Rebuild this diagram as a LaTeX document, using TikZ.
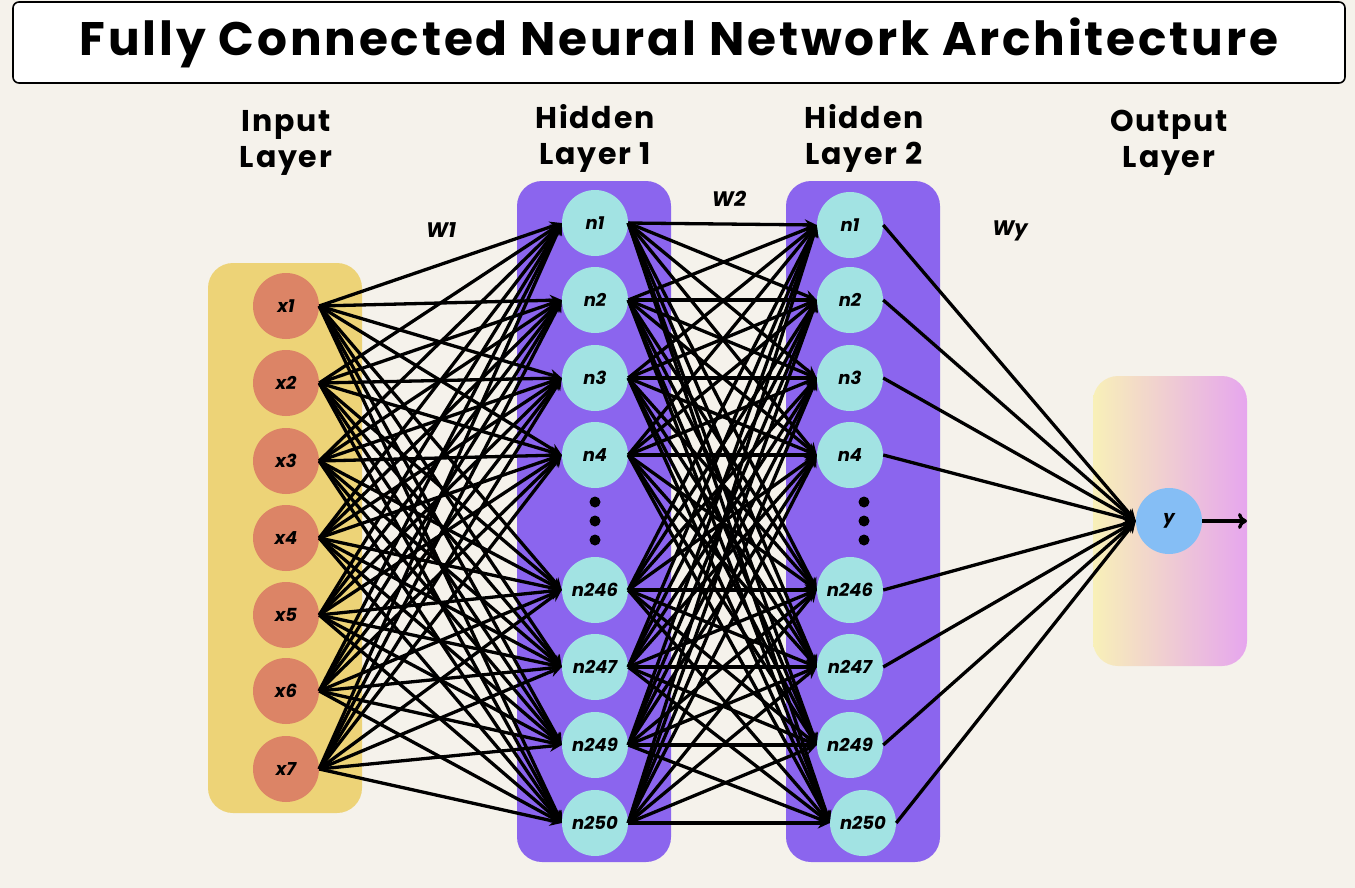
\documentclass[tikz,border=0pt]{standalone}
\usepackage{fontspec}
\setmainfont{Poppins}
\usetikzlibrary{arrows.meta,shadings}
\definecolor{bg}{RGB}{245,242,235}
\definecolor{inbox}{RGB}{237,211,119}
\definecolor{innode}{RGB}{220,132,102}
\definecolor{hidbox}{RGB}{139,101,238}
\definecolor{hidnode}{RGB}{162,227,227}
\definecolor{outnode}{RGB}{133,190,245}
\definecolor{gradL}{RGB}{248,240,184}
\definecolor{gradR}{RGB}{230,166,238}
\tikzset{
  neuron/.style={circle,minimum size=66pt,inner sep=0pt,font=\fontsize{18}{18}\selectfont\bfseries\itshape},
  inneuron/.style={neuron,fill=innode},
  hidneuron/.style={neuron,fill=hidnode},
  outneuron/.style={neuron,fill=outnode},
  layerbox/.style={rounded corners=25pt},
  layerlabel/.style={align=center,font=\fontsize{30}{36}\selectfont\bfseries},
  wlabel/.style={font=\fontsize{21}{21}\selectfont\bfseries\itshape},
  edge/.style={line width=3.3pt,-{Stealth[length=12pt,width=11pt]}},
  dotmark/.style={circle,fill=black,minimum size=11pt,inner sep=0pt}
}
\begin{document}
\begin{tikzpicture}[x=1pt,y=-1pt]
\useasboundingbox (0,0) rectangle (1355,888);
\fill[bg] (0,0) rectangle (1355,888);
% title
\node[draw=black,line width=1.6pt,fill=white,rounded corners=6pt,minimum width=1332pt,minimum height=81pt,inner sep=0pt] (titlebox) at (679,42.5) {};
\node[font=\fontsize{47}{47}\selectfont\bfseries] (title) at (679,43) {\addfontfeature{LetterSpace=6}Fully Connected Neural Network Architecture};
% layer boxes
\fill[inbox,layerbox] (208,263) rectangle (362,813);
\fill[hidbox,layerbox] (517,181) rectangle (671,862);
\fill[hidbox,layerbox] (786,181) rectangle (940,862);
\shade[layerbox,left color=gradL,right color=gradR] (1093,376) rectangle (1247,666);
% layer labels
\node[layerlabel] (linput) at (286,143) {\addfontfeature{LetterSpace=6}Input\\\addfontfeature{LetterSpace=6}Layer};
\node[layerlabel] (lhid1) at (595,138) {\addfontfeature{LetterSpace=6}Hidden\\\addfontfeature{LetterSpace=6}Layer 1};
\node[layerlabel] (lhid2) at (864,138) {\addfontfeature{LetterSpace=6}Hidden\\\addfontfeature{LetterSpace=6}Layer 2};
\node[layerlabel] (lout) at (1169,143) {\addfontfeature{LetterSpace=6}Output\\\addfontfeature{LetterSpace=6}Layer};
% weight labels
\node[wlabel] (w1) at (441,230) {W1};
\node[wlabel] (w2) at (729,199) {W2};
\node[wlabel] (wy) at (1010,231) {Wy};
% input nodes
\foreach \i/\yy in {1/306,2/383,3/461,4/538,5/615,6/691,7/769}
  \node[inneuron] (x\i) at (286,\yy) {x\i};
% hidden nodes
\foreach \k/\lab/\yy in {1/1/223,2/2/300,3/3/378,4/4/455,5/246/590,6/247/667,7/249/745,8/250/823}
  \node[hidneuron] (a\k) at (595,\yy) {n\lab};
\foreach \k/\lab/\yy in {1/1/225,2/2/300,3/3/378,4/4/455,5/246/590,6/247/667,7/249/745}
  \node[hidneuron] (b\k) at (850,\yy) {n\lab};
\node[hidneuron] (b8) at (863,823) {n250};
\node[outneuron] (y) at (1169,521) {y};
% dots
\foreach \yy [count=\d] in {502,521,540} {
  \node[dotmark] (da\d) at (595,\yy) {};
  \node[dotmark] (db\d) at (864,\yy) {};
}
% edges
\foreach \i in {1,...,7}
  \foreach \k in {1,...,8}
    \draw[edge] (x\i.east) -- (a\k.west);
\foreach \i in {1,...,8}
  \foreach \k in {1,...,8}
    \draw[edge] (a\i.east) -- (b\k.west);
\foreach \k in {1,...,8}
  \draw[edge] (b\k.east) -- (y.west);
\coordinate (yout) at (1247,521);
\draw[line width=3.3pt,-{To[length=9pt,width=16pt,line width=3.3pt]}] (y.east) -- (yout);
\end{tikzpicture}
\end{document}
